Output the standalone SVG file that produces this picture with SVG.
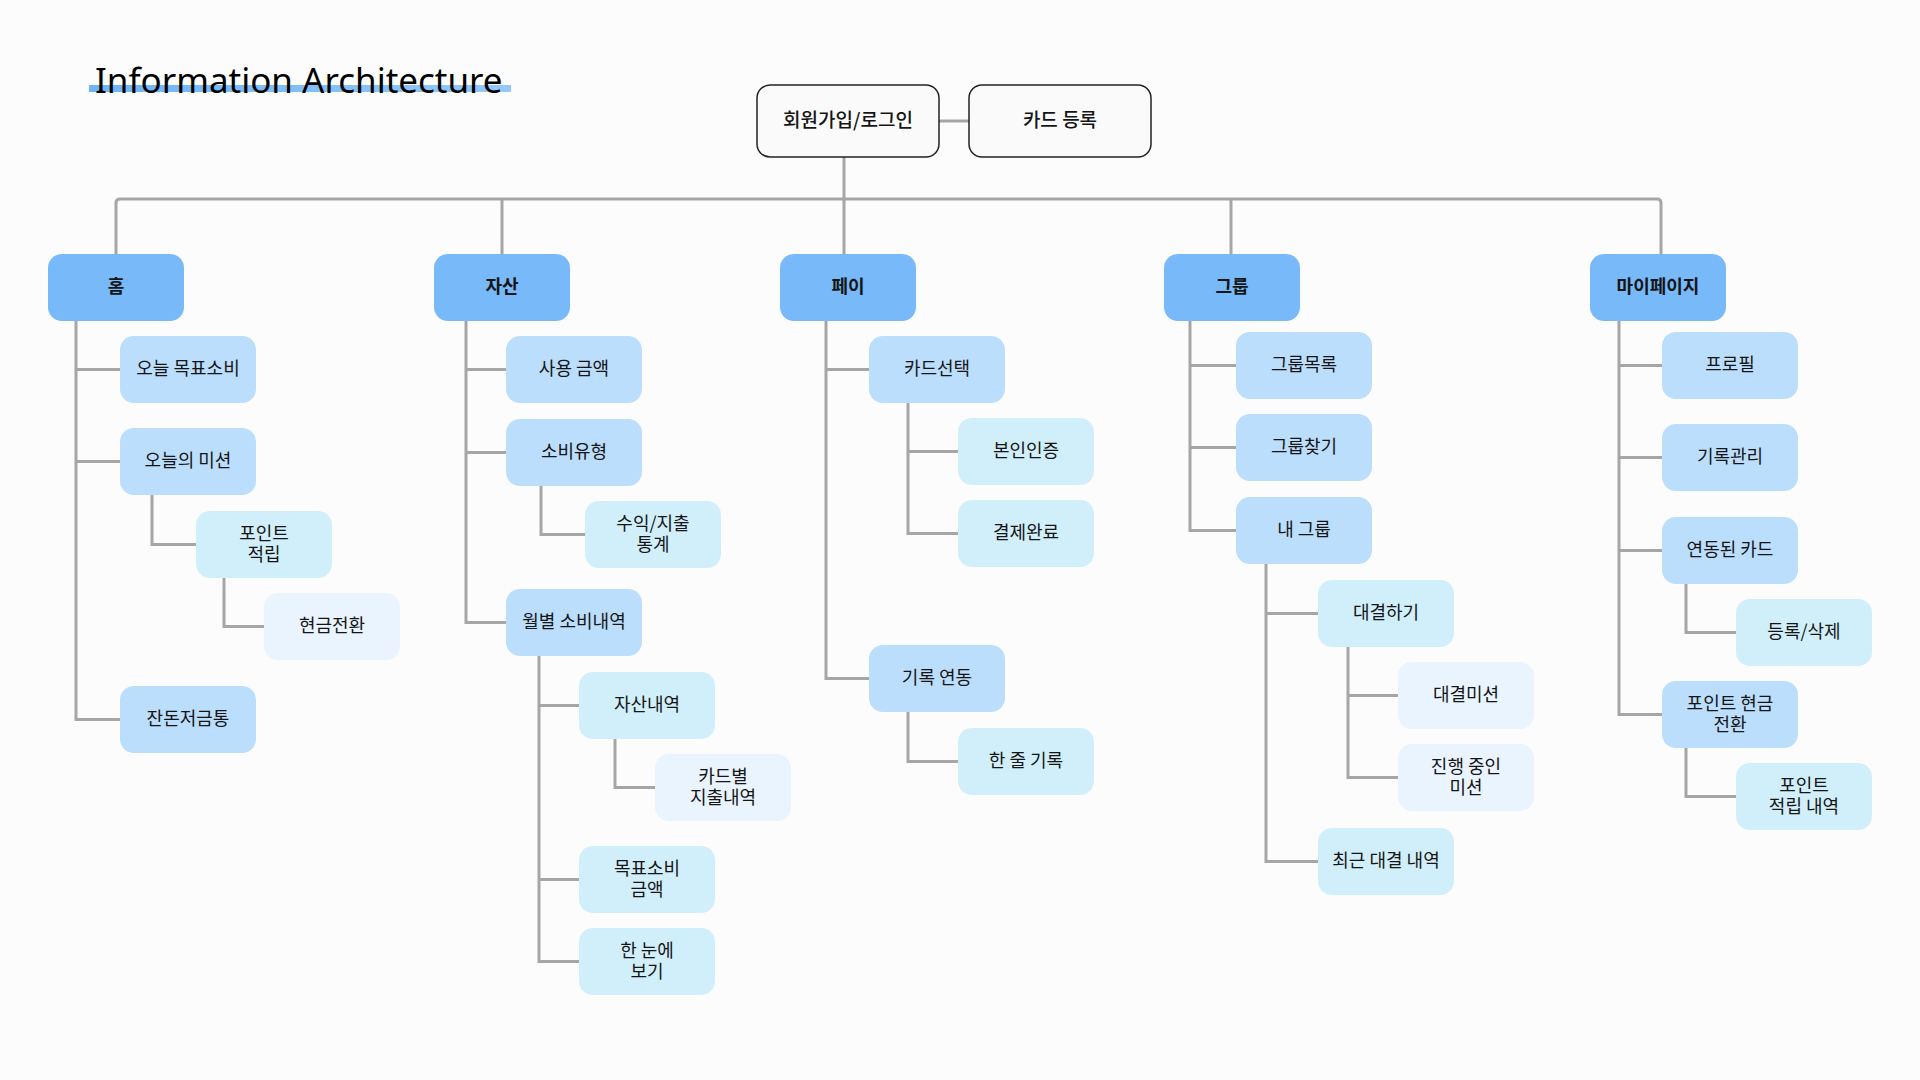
<svg xmlns="http://www.w3.org/2000/svg" width="1920" height="1080" viewBox="0 0 1920 1080">
<defs>
<linearGradient id="bar" x1="0" y1="0" x2="1" y2="0">
<stop offset="0" stop-color="#6fb4f8"/>
<stop offset="1" stop-color="#93c9fa"/>
</linearGradient>
<style>
.bg{fill:#fcfcfc}
.top{fill:#fafafa;stroke:#222;stroke-width:1.5}
.l1{fill:#77b9f9}
.l2{fill:#bbdefc}
.l3{fill:#d1effb}
.l4{fill:#eaf4ff}
.c{fill:none;stroke:#a6a6a6;stroke-width:3;stroke-linejoin:miter}
text{font-family:"Noto Sans CJK KR","Noto Sans",sans-serif;font-size:18px;fill:#151515;text-anchor:middle;dominant-baseline:central}
.b{font-weight:700}
.t{font-size:19px;font-weight:500}
.title{font-family:"Noto Sans","Noto Sans CJK KR",sans-serif;font-size:35px;text-anchor:start;dominant-baseline:auto;fill:#000}
</style>
</defs>
<rect class="bg" width="1920" height="1080"/>
<rect x="89" y="85" width="422" height="7" fill="url(#bar)"/>
<text class="title" x="95" y="93">Information Architecture</text>

<g id="connectors">
<path class="c" d="M939 121H969"/>
<path class="c" d="M844 157V254"/>
<path class="c" d="M116 254V203Q116 199 120 199H1657Q1661 199 1661 203V254"/>
<path class="c" d="M502 199V254"/>
<path class="c" d="M1231 199V254"/>
<path class="c" d="M76 321V719.5H120M76 369.5H120M76 461.5H120"/>
<path class="c" d="M152 495V544.5H196"/>
<path class="c" d="M224 578V626.5H264"/>
<path class="c" d="M466 321V622.5H506M466 369.5H506M466 452.5H506"/>
<path class="c" d="M541 486V534.5H585"/>
<path class="c" d="M539 656V961.5H579M539 705.5H579M539 879.5H579"/>
<path class="c" d="M615 739V787.5H655"/>
<path class="c" d="M826 321V678.5H869M826 369.5H869"/>
<path class="c" d="M908 403V533.5H958M908 451.5H958"/>
<path class="c" d="M908 712V761.5H958"/>
<path class="c" d="M1190 321V530.5H1236M1190 365.5H1236M1190 447.5H1236"/>
<path class="c" d="M1266 564V861.5H1318M1266 613.5H1318"/>
<path class="c" d="M1348 647V777.5H1398M1348 695.5H1398"/>
<path class="c" d="M1619 321V714.5H1662M1619 365.5H1662M1619 457.5H1662M1619 550.5H1662"/>
<path class="c" d="M1686 584V632.5H1736"/>
<path class="c" d="M1686 748V796.5H1736"/>
</g>

<g id="n-login"><rect class="top" x="757" y="85" width="182" height="72" rx="13"/><text class="t" x="848" y="118.5">회원가입/로그인</text></g>
<g id="n-card-reg"><rect class="top" x="969" y="85" width="182" height="72" rx="13"/><text class="t" x="1060" y="118.5">카드 등록</text></g>

<g id="n-home"><rect class="l1" x="48" y="254" width="136" height="67" rx="14"/><text class="b" x="116" y="285">홈</text></g>
<g id="n-home-1"><rect class="l2" x="120" y="336" width="136" height="67" rx="14"/><text x="188" y="367">오늘 목표소비</text></g>
<g id="n-home-2"><rect class="l2" x="120" y="428" width="136" height="67" rx="14"/><text x="188" y="459">오늘의 미션</text></g>
<g id="n-home-2-1"><rect class="l3" x="196" y="511" width="136" height="67" rx="14"/><text x="264" y="532"><tspan x="264">포인트</tspan><tspan x="264" dy="21">적립</tspan></text></g>
<g id="n-home-2-1-1"><rect class="l4" x="264" y="593" width="136" height="67" rx="14"/><text x="332" y="624">현금전환</text></g>
<g id="n-home-3"><rect class="l2" x="120" y="686" width="136" height="67" rx="14"/><text x="188" y="717">잔돈저금통</text></g>

<g id="n-asset"><rect class="l1" x="434" y="254" width="136" height="67" rx="14"/><text class="b" x="502" y="285">자산</text></g>
<g id="n-asset-1"><rect class="l2" x="506" y="336" width="136" height="67" rx="14"/><text x="574" y="367">사용 금액</text></g>
<g id="n-asset-2"><rect class="l2" x="506" y="419" width="136" height="67" rx="14"/><text x="574" y="450">소비유형</text></g>
<g id="n-asset-2-1"><rect class="l3" x="585" y="501" width="136" height="67" rx="14"/><text x="653" y="521.5"><tspan x="653">수익/지출</tspan><tspan x="653" dy="21">통계</tspan></text></g>
<g id="n-asset-3"><rect class="l2" x="506" y="589" width="136" height="67" rx="14"/><text x="574" y="620">월별 소비내역</text></g>
<g id="n-asset-3-1"><rect class="l3" x="579" y="672" width="136" height="67" rx="14"/><text x="647" y="703">자산내역</text></g>
<g id="n-asset-3-1-1"><rect class="l4" x="655" y="754" width="136" height="67" rx="14"/><text x="723" y="774.5"><tspan x="723">카드별</tspan><tspan x="723" dy="21">지출내역</tspan></text></g>
<g id="n-asset-3-2"><rect class="l3" x="579" y="846" width="136" height="67" rx="14"/><text x="647" y="866.5"><tspan x="647">목표소비</tspan><tspan x="647" dy="21">금액</tspan></text></g>
<g id="n-asset-3-3"><rect class="l3" x="579" y="928" width="136" height="67" rx="14"/><text x="647" y="948.5"><tspan x="647">한 눈에</tspan><tspan x="647" dy="21">보기</tspan></text></g>

<g id="n-pay"><rect class="l1" x="780" y="254" width="136" height="67" rx="14"/><text class="b" x="848" y="285">페이</text></g>
<g id="n-pay-1"><rect class="l2" x="869" y="336" width="136" height="67" rx="14"/><text x="937" y="367">카드선택</text></g>
<g id="n-pay-1-1"><rect class="l3" x="958" y="418" width="136" height="67" rx="14"/><text x="1026" y="449">본인인증</text></g>
<g id="n-pay-1-2"><rect class="l3" x="958" y="500" width="136" height="67" rx="14"/><text x="1026" y="531">결제완료</text></g>
<g id="n-pay-2"><rect class="l2" x="869" y="645" width="136" height="67" rx="14"/><text x="937" y="676">기록 연동</text></g>
<g id="n-pay-2-1"><rect class="l3" x="958" y="728" width="136" height="67" rx="14"/><text x="1026" y="759">한 줄 기록</text></g>

<g id="n-group"><rect class="l1" x="1164" y="254" width="136" height="67" rx="14"/><text class="b" x="1232" y="285">그룹</text></g>
<g id="n-group-1"><rect class="l2" x="1236" y="332" width="136" height="67" rx="14"/><text x="1304" y="363">그룹목록</text></g>
<g id="n-group-2"><rect class="l2" x="1236" y="414" width="136" height="67" rx="14"/><text x="1304" y="445">그룹찾기</text></g>
<g id="n-group-3"><rect class="l2" x="1236" y="497" width="136" height="67" rx="14"/><text x="1304" y="528">내 그룹</text></g>
<g id="n-group-3-1"><rect class="l3" x="1318" y="580" width="136" height="67" rx="14"/><text x="1386" y="611">대결하기</text></g>
<g id="n-group-3-1-1"><rect class="l4" x="1398" y="662" width="136" height="67" rx="14"/><text x="1466" y="693">대결미션</text></g>
<g id="n-group-3-1-2"><rect class="l4" x="1398" y="744" width="136" height="67" rx="14"/><text x="1466" y="764.5"><tspan x="1466">진행 중인</tspan><tspan x="1466" dy="21">미션</tspan></text></g>
<g id="n-group-3-2"><rect class="l3" x="1318" y="828" width="136" height="67" rx="14"/><text x="1386" y="859">최근 대결 내역</text></g>

<g id="n-my"><rect class="l1" x="1590" y="254" width="136" height="67" rx="14"/><text class="b" x="1658" y="285">마이페이지</text></g>
<g id="n-my-1"><rect class="l2" x="1662" y="332" width="136" height="67" rx="14"/><text x="1730" y="363">프로필</text></g>
<g id="n-my-2"><rect class="l2" x="1662" y="424" width="136" height="67" rx="14"/><text x="1730" y="455">기록관리</text></g>
<g id="n-my-3"><rect class="l2" x="1662" y="517" width="136" height="67" rx="14"/><text x="1730" y="548">연동된 카드</text></g>
<g id="n-my-3-1"><rect class="l3" x="1736" y="599" width="136" height="67" rx="14"/><text x="1804" y="630">등록/삭제</text></g>
<g id="n-my-4"><rect class="l2" x="1662" y="681" width="136" height="67" rx="14"/><text x="1730" y="701.5"><tspan x="1730">포인트 현금</tspan><tspan x="1730" dy="21">전환</tspan></text></g>
<g id="n-my-4-1"><rect class="l3" x="1736" y="763" width="136" height="67" rx="14"/><text x="1804" y="783.5"><tspan x="1804">포인트</tspan><tspan x="1804" dy="21">적립 내역</tspan></text></g>
</svg>
